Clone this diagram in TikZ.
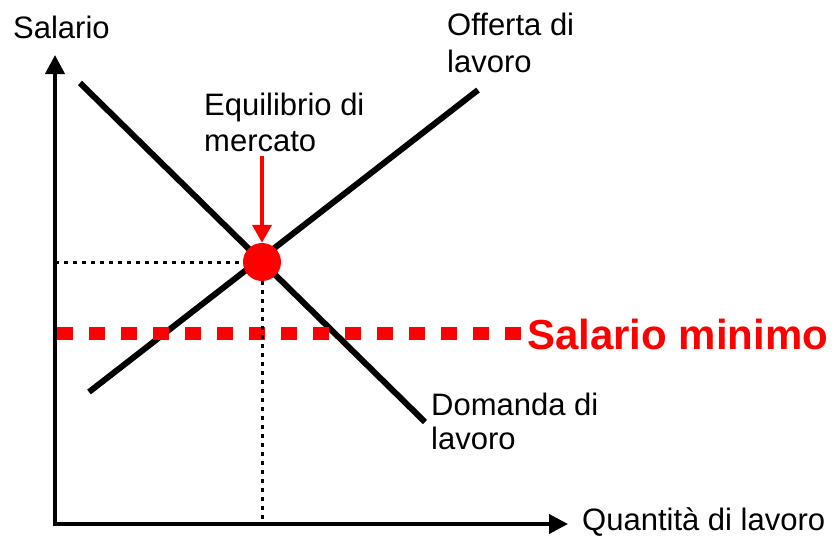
\documentclass[tikz,border=0pt]{standalone}
\usepackage{fontspec}
\setmainfont{Liberation Sans}
\usetikzlibrary{arrows.meta,positioning}

\begin{document}
\begin{tikzpicture}[x=1pt,y=-1pt,
  every node/.style={inner sep=0pt,align=left,font=\fontsize{31}{36}\selectfont},
  axis/.style={line width=4pt,{Triangle[length=19pt,width=19pt]}-{Triangle[length=19pt,width=19pt]}},
  curve/.style={line width=6pt},
  guide/.style={line width=3pt,dash pattern=on 4pt off 5pt},
  minwage/.style={red,line width=13pt,dash pattern=on 16pt off 16pt}]
\useasboundingbox (0,0) rectangle (837,535);
% axes
\coordinate (YTop) at (55,55);
\coordinate (Origin) at (55,524);
\coordinate (XEnd) at (568,524);
\draw [axis] (YTop) -- (Origin) -- (XEnd);
\node [anchor=base west] (YLabel) at (13,38) {Salario};
\node [anchor=base west] (XLabel) at (582,530) {Quantità di lavoro};
% curves
\coordinate (DemandTop) at (80,83);
\coordinate (DemandEnd) at (425,422);
\coordinate (SupplyStart) at (89,392);
\coordinate (SupplyTop) at (478,90);
\draw [curve] (DemandTop) -- (DemandEnd);
\draw [curve] (SupplyStart) -- (SupplyTop);
\node [anchor=base west] (SupplyLabel) at (447,36) {Offerta di};
\node [anchor=base west] (SupplyLabel2) at (447,72) {lavoro};
\node [anchor=base west] (DemandLabel) at (431,415) {Domanda di};
\node [anchor=base west] (DemandLabel2) at (431,449) {lavoro};
% minimum wage
\coordinate (MinStart) at (57,333);
\coordinate (MinEnd) at (522,333);
\draw [minwage] (MinStart) -- (MinEnd);
\node [red,anchor=base west,font=\bfseries\fontsize{42}{46}\selectfont] (MinLabel) at (527,349) {Salario minimo};
% equilibrium
\node [circle,fill=red,minimum size=38pt] (Eq) at (262,262) {};
\draw [guide] (Origin |- Eq) -- (Eq);
\draw [guide] (Eq) -- (Eq |- Origin);
\node [anchor=base west] (EqLabel) at (204,115) {Equilibrio di};
\node [anchor=base west] (EqLabel2) at (204,151) {mercato};
\coordinate (EqArrow) at (262,156);
\draw [red,line width=4pt,-{Triangle[length=18pt,width=19pt]}] (EqArrow) -- (Eq);
\end{tikzpicture}
\end{document}
